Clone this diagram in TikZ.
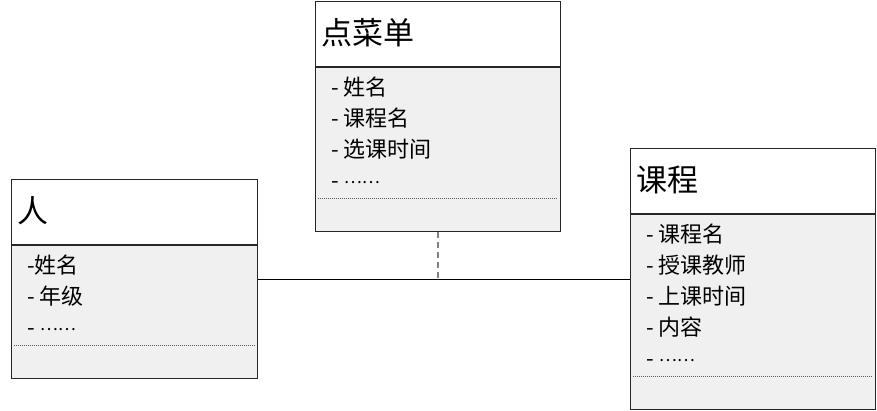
\documentclass[tikz,border=0pt]{standalone}
\usepackage{fontspec}
\usepackage{tikz}
\usetikzlibrary{calc}
\newfontfamily\cjk{Noto Sans CJK SC}
\definecolor{bodygray}{HTML}{F0F0F0}
\tikzset{
  headbox/.style  = {draw=black!85,line width=1pt,fill=white,anchor=north west,inner sep=0pt,minimum height=65pt},
  bodybox/.style  = {draw=black!85,line width=1pt,fill=bodygray,anchor=north west,inner sep=0pt},
  headtext/.style = {anchor=base west,inner sep=0pt,font=\cjk\fontsize{31}{34}\selectfont},
  itemtext/.style = {anchor=base west,inner sep=0pt,font=\cjk\fontsize{22}{26}\selectfont},
  sepline/.style  = {black!65,line width=1pt,dash pattern=on 1pt off 1pt},
  assoc/.style    = {black,line width=1pt},
  depline/.style  = {gray,line width=1.4pt,dash pattern=on 6pt off 4pt}
}
\newcommand{\hdotsmid}{\raisebox{5pt}{\fontsize{17}{20}\selectfont ……}}
% #1 name, #2 x, #3 y, #4 width, #5 body height, #6 title, #7 items
\newcommand{\classbox}[7]{%
  \node[headbox,minimum width=#4] (#1-head) at (#2,#3) {};
  \node[bodybox,minimum width=#4,minimum height=#5] (#1-body) at (#1-head.south west) {};
  \node[headtext] (#1-title) at ([shift={(6.5pt,-43pt)}]#1-head.north west) {#6};
  \foreach \t [count=\i] in {#7}
    \node[itemtext] (#1-item\i) at ([shift={(16pt,{-28pt-(\i-1)*31pt})}]#1-body.north west) {\t};
  \draw[sepline] ([shift={(3pt,34pt)}]#1-body.south west) -- ([shift={(-3pt,34pt)}]#1-body.south east);
}

\begin{document}
\begin{tikzpicture}[x=1pt,y=-1pt]
  \useasboundingbox (0,0) rectangle (877,410);
  \classbox{menu}{315}{1}{245pt}{164pt}{点菜单}{- 姓名,- 课程名,- 选课时间,- \hdotsmid}
  \classbox{person}{11}{179}{246pt}{133pt}{人}{-姓名,- 年级,- \hdotsmid}
  \classbox{course}{630}{148}{245pt}{195pt}{课程}{- 课程名,- 授课教师,- 上课时间,- 内容,- \hdotsmid}
  % association and dependency
  \coordinate (person-mid) at ($(person-head.north east)!.5!(person-body.south east)$);
  \coordinate (course-mid) at ($(course-head.north west)!.5!(course-body.south west)$);
  \coordinate (assoc-mid) at (menu-body.south |- person-mid);
  \draw[assoc] (person-mid) -- (course-mid);
  \draw[depline] (menu-body.south) -- (assoc-mid);
\end{tikzpicture}
\end{document}
